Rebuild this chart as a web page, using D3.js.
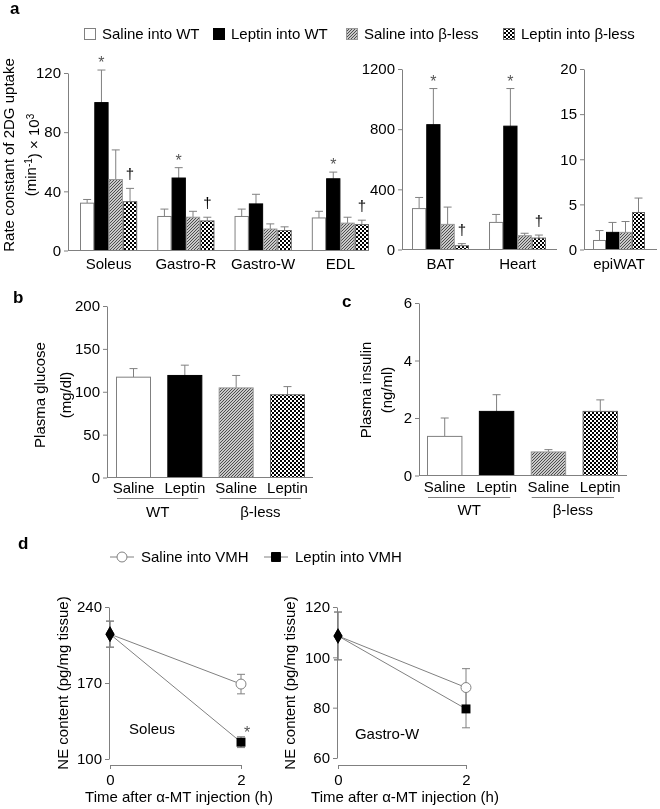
<!DOCTYPE html>
<html><head><meta charset="utf-8">
<script src="https://cdn.jsdelivr.net/npm/d3@7"></script>
<style>
body{margin:0;background:#fff}
svg{will-change:transform}
svg text{font-family:"Liberation Sans",Arial,Helvetica,sans-serif;fill:#000}
</style></head><body>
<svg id="chart" width="660" height="809"></svg>
<script>
// ---------------- DATA ----------------
const seriesLabels = ["Saline into WT", "Leptin into WT", "Saline into β-less", "Leptin into β-less"];

const muscleTissues = ["Soleus", "Gastro-R", "Gastro-W", "EDL"];
const muscleMean = [[32, 100, 48, 33], [23, 49, 22.5, 20], [23, 31.5, 14.5, 13.5], [22, 48.5, 18.5, 17.5]];
const muscleSem = [[2.5, 22, 20, 9], [5, 7, 4, 2.5], [5, 6.5, 3.5, 2.5], [4.5, 4.5, 4, 3]];
const muscleStar = [true, true, false, true];
const muscleDagger = [true, true, false, true];
const muscleTicks = [0, 40, 80, 120];

const organTissues = ["BAT", "Heart"];
const organMean = [[272, 830, 167, 25], [180, 820, 92, 76]];
const organSem = [[74, 240, 115, 14], [53, 250, 16, 20]];
const organStar = [true, true];
const organDagger = [true, true];
const organTicks = [0, 400, 800, 1200];

const watTissues = ["epiWAT"];
const watMean = [[1.0, 1.9, 1.9, 4.1]];
const watSem = [[1.1, 1.1, 1.2, 1.6]];
const watTicks = [0, 5, 10, 15, 20];

const treatLabels = ["Saline", "Leptin", "Saline", "Leptin"];
const genotypeLabels = ["WT", "β-less"];
const glucoseMean = [117, 119, 104.5, 96.5];
const glucoseSem = [10, 12, 14.5, 9.5];
const glucoseTicks = [0, 50, 100, 150, 200];
const insulinMean = [1.36, 2.23, 0.82, 2.23];
const insulinSem = [0.64, 0.58, 0.08, 0.4];
const insulinTicks = [0, 2, 4, 6];

const neLegend = ["Saline into VMH", "Leptin into VMH"];
const neTimes = [0, 2];
const soleusSaline = [215, 169];
const soleusSalineSem = [12, 9];
const soleusLeptin = [215, 115.5];
const soleusLeptinSem = [12, 5];
const soleusTicks = [100, 170, 240];
const gastroSaline = [108.5, 88];
const gastroSalineSem = [9.5, 7.5];
const gastroLeptin = [108.5, 79.5];
const gastroLeptinSem = [9.5, 7.5];
const gastroTicks = [60, 80, 100, 120];

// ---------------- DRAWING ----------------
const svg = d3.select("#chart");
const AX = "#808080";
const FS = 15;
const fills = ["#ffffff", "#000000", "url(#hatch)", "url(#checker)"];
const strokes = [AX, "#000", "#999", "#666"];

const defs = svg.append("defs");
const hp = defs.append("pattern").attr("id", "hatch").attr("patternUnits", "userSpaceOnUse")
  .attr("width", 3).attr("height", 3);
hp.append("rect").attr("width", 3).attr("height", 3).attr("fill", "#fff");
hp.append("path").attr("d", "M-1,1 l2,-2 M0,3 l3,-3 M2,4 l2,-2").attr("stroke", "#444").attr("stroke-width", 1.1);
const cp = defs.append("pattern").attr("id", "checker").attr("patternUnits", "userSpaceOnUse")
  .attr("width", 4).attr("height", 4);
cp.append("rect").attr("width", 4).attr("height", 4).attr("fill", "#fff");
cp.append("rect").attr("width", 2).attr("height", 2).attr("fill", "#000");
cp.append("rect").attr("x", 2).attr("y", 2).attr("width", 2).attr("height", 2).attr("fill", "#000");

function panelLabel(t, x, y) {
  svg.append("text").attr("x", x).attr("y", y).attr("font-size", 17).attr("font-weight", "bold").text(t);
}

function yAxis(y, x, ticks) {
  const g = svg.append("g").attr("transform", `translate(${x},0)`)
    .call(d3.axisLeft(y).tickValues(ticks).tickSize(4).tickSizeOuter(0).tickPadding(3).tickFormat(d3.format("d")));
  g.attr("color", AX);
  g.selectAll("text").attr("font-size", FS).style("fill", "#000");
  g.select(".domain").attr("stroke-width", 1);
  return g;
}

function rotTitle(lines, cy) {
  lines.forEach(l => {
    const t = svg.append("text").attr("transform", `translate(${l.x},${cy}) rotate(-90)`)
      .attr("text-anchor", "middle").attr("dy", "0.35em").attr("font-size", FS);
    l.parts.forEach(p => {
      const ts = t.append("tspan").text(p.t);
      if (p.sup) ts.attr("dy", "-0.45em").attr("font-size", 10);
      if (p.back) ts.attr("dy", "0.45em");
    });
  });
}

function barPanel(o) {
  const x = d3.scaleBand().domain(o.cats).range(o.range).paddingInner(o.pad).paddingOuter(0);
  const xi = d3.scaleBand().domain(d3.range(4)).range([0, x.bandwidth()]);
  const y = d3.scaleLinear().domain([0, o.ticks[o.ticks.length - 1]]).range(o.yRange);
  yAxis(y, o.axisX, o.ticks);
  const g = svg.append("g");
  o.cats.forEach((c, ci) => {
    const gx = x(c);
    o.mean[ci].forEach((v, si) => {
      const bx = gx + xi(si), bw = xi.bandwidth();
      const cx = bx + bw / 2;
      const eTop = y(v + o.sem[ci][si]);
      g.append("line").attr("x1", cx).attr("x2", cx).attr("y1", y(v)).attr("y2", eTop)
        .attr("stroke", AX).attr("stroke-width", 1);
      g.append("line").attr("x1", cx - 4).attr("x2", cx + 4).attr("y1", eTop).attr("y2", eTop)
        .attr("stroke", AX).attr("stroke-width", 1);
      g.append("rect").attr("x", bx + 0.5).attr("y", y(v)).attr("width", bw - 1).attr("height", y(0) - y(v))
        .attr("fill", fills[si]).attr("stroke", strokes[si]).attr("stroke-width", 1);
      if (o.star && o.star[ci] && si === 1)
        g.append("text").attr("x", cx).attr("y", eTop - 2).attr("text-anchor", "middle")
          .attr("font-size", 16).style("fill", "#555").text("*");
      if (o.dagger && o.dagger[ci] && si === 3)
        g.append("text").attr("x", cx).attr("y", eTop - 9).attr("text-anchor", "middle")
          .attr("font-size", FS).style("fill", "#000").text("†");
    });
    if (o.catY) g.append("text").attr("x", gx + x.bandwidth() / 2).attr("y", o.catY)
      .attr("text-anchor", "middle").attr("font-size", FS).text(c);
  });
  g.append("line").attr("x1", o.axisX).attr("x2", o.baseEnd).attr("y1", y(0)).attr("y2", y(0))
    .attr("stroke", AX).attr("stroke-width", 1);
  return {x, y};
}

// ---- Panel a ----
panelLabel("a", 10, 14);
const legX = [84, 213, 346, 503];
seriesLabels.forEach((s, i) => {
  svg.append("rect").attr("x", legX[i] + 0.5).attr("y", 28.5).attr("width", 11).attr("height", 11)
    .attr("fill", fills[i]).attr("stroke", strokes[i]);
  svg.append("text").attr("x", legX[i] + 18).attr("y", 39).attr("font-size", FS).text(s);
});
barPanel({cats: muscleTissues, mean: muscleMean, sem: muscleSem, star: muscleStar, dagger: muscleDagger,
  ticks: muscleTicks, range: [80, 369], pad: 0.26, yRange: [250.5, 73], axisX: 68, baseEnd: 369, catY: 269});
barPanel({cats: organTissues, mean: organMean, sem: organSem, star: organStar, dagger: organDagger,
  ticks: organTicks, range: [412, 546], pad: 0.26, yRange: [249.5, 69], axisX: 402, baseEnd: 557, catY: 269});
barPanel({cats: watTissues, mean: watMean, sem: watSem,
  ticks: watTicks, range: [593, 645], pad: 0, yRange: [249.5, 69], axisX: 584, baseEnd: 657, catY: 269});
rotTitle([
  {x: 9, parts: [{t: "Rate constant of 2DG uptake"}]},
  {x: 31, parts: [{t: "(min"}, {t: "-1", sup: true}, {t: ") × 10", back: true}, {t: "3", sup: true}]}
], 155);

// ---- Panels b & c ----
function simplePanel(o) {
  const x = d3.scaleBand().domain(d3.range(4)).range(o.range).paddingInner(o.pad).paddingOuter(0);
  const y = d3.scaleLinear().domain([0, o.ticks[o.ticks.length - 1]]).range(o.yRange);
  yAxis(y, o.axisX, o.ticks);
  const g = svg.append("g");
  o.mean.forEach((v, i) => {
    const bx = x(i), bw = x.bandwidth(), cx = bx + bw / 2, eTop = y(v + o.sem[i]);
    g.append("line").attr("x1", cx).attr("x2", cx).attr("y1", y(v)).attr("y2", eTop).attr("stroke", AX);
    g.append("line").attr("x1", cx - 4).attr("x2", cx + 4).attr("y1", eTop).attr("y2", eTop).attr("stroke", AX);
    g.append("rect").attr("x", bx + 0.5).attr("y", y(v)).attr("width", bw - 1).attr("height", y(0) - y(v))
      .attr("fill", fills[i]).attr("stroke", strokes[i]);
    g.append("text").attr("x", cx).attr("y", o.labY).attr("text-anchor", "middle").attr("font-size", FS).text(treatLabels[i]);
  });
  g.append("line").attr("x1", o.axisX).attr("x2", o.baseEnd).attr("y1", y(0)).attr("y2", y(0)).attr("stroke", AX);
  genotypeLabels.forEach((gl, k) => {
    const x1 = x(2 * k) + 1, x2 = x(2 * k + 1) + x.bandwidth() - 4;
    g.append("line").attr("x1", x1).attr("x2", x2).attr("y1", o.lineY).attr("y2", o.lineY).attr("stroke", AX);
    g.append("text").attr("x", (x1 + x2) / 2).attr("y", o.grpY).attr("text-anchor", "middle").attr("font-size", FS).text(gl);
  });
}
panelLabel("b", 13, 303);
simplePanel({mean: glucoseMean, sem: glucoseSem, ticks: glucoseTicks, range: [116, 305], pad: 0.318,
  yRange: [477.5, 306], axisX: 107, baseEnd: 313, labY: 493, lineY: 498.5, grpY: 517});
rotTitle([{x: 40, parts: [{t: "Plasma glucose"}]}, {x: 66, parts: [{t: "(mg/dl)"}]}], 395);

panelLabel("c", 342, 307);
simplePanel({mean: insulinMean, sem: insulinSem, ticks: insulinTicks, range: [427, 618], pad: 0.317,
  yRange: [475.5, 303], axisX: 419, baseEnd: 627, labY: 492, lineY: 497.5, grpY: 515});
rotTitle([{x: 366, parts: [{t: "Plasma insulin"}]}, {x: 387, parts: [{t: "(ng/ml)"}]}], 390);

// ---- Panel d ----
panelLabel("d", 18, 549);
const circleSym = d3.symbol().type(d3.symbolCircle).size(78);
const squareSym = d3.symbol().type(d3.symbolSquare).size(80);
const diamondSym = d3.symbol().type(d3.symbolDiamond).size(70);
function legendMark(x, y, isLep, label) {
  svg.append("line").attr("x1", x).attr("x2", x + 24).attr("y1", y).attr("y2", y).attr("stroke", AX);
  svg.append("path").attr("transform", `translate(${x + 12},${y})`)
    .attr("d", isLep ? squareSym() : circleSym())
    .attr("fill", isLep ? "#000" : "#fff").attr("stroke", isLep ? "#000" : AX);
  svg.append("text").attr("x", x + 31).attr("y", y + 5).attr("font-size", FS).text(label);
}
legendMark(110, 557, false, neLegend[0]);
legendMark(264, 557, true, neLegend[1]);

function linePanel(o) {
  const x = d3.scaleLinear().domain([0, 2]).range(o.xRange);
  const y = d3.scaleLinear().domain([o.ticks[0], o.ticks[o.ticks.length - 1]]).range(o.yRange);
  yAxis(y, o.xRange[0] - 1, o.ticks);
  const xa = svg.append("g").attr("transform", `translate(0,${o.xAxisY})`)
    .call(d3.axisBottom(x).tickValues(neTimes).tickSize(4).tickSizeOuter(0).tickPadding(5).tickFormat(d3.format("d")));
  xa.attr("color", AX);
  xa.selectAll("text").attr("font-size", FS).style("fill", "#000");
  const g = svg.append("g");
  const series = [{v: o.saline, s: o.salineSem, lep: false}, {v: o.leptin, s: o.leptinSem, lep: true}];
  const line = d3.line().x((d, i) => x(neTimes[i])).y(d => y(d));
  series.forEach(se => {
    g.append("path").attr("d", line(se.v)).attr("fill", "none").attr("stroke", AX).attr("stroke-width", 1);
  });
  series.forEach(se => {
    se.v.forEach((v, i) => {
      const cx = x(neTimes[i]), y1 = y(v + se.s[i]), y2 = y(v - se.s[i]);
      g.append("line").attr("x1", cx).attr("x2", cx).attr("y1", y1).attr("y2", y2).attr("stroke", AX);
      [y1, y2].forEach(yy => g.append("line").attr("x1", cx - 4).attr("x2", cx + 4).attr("y1", yy).attr("y2", yy).attr("stroke", AX));
    });
  });
  series.forEach(se => {
    se.v.forEach((v, i) => {
      const p = g.append("path").attr("transform", `translate(${x(neTimes[i])},${y(v)})`);
      if (i === 0) p.attr("d", diamondSym()).attr("fill", "#000");
      else if (se.lep) p.attr("d", squareSym()).attr("fill", "#000");
      else p.attr("d", circleSym()).attr("fill", "#fff").attr("stroke", AX);
    });
  });
  if (o.starAt) g.append("text").attr("x", x(2) + 6).attr("y", y(o.leptin[1]) - 4).attr("text-anchor", "middle")
    .attr("font-size", 16).style("fill", "#555").text("*");
  g.append("text").attr("x", o.tissueX).attr("y", o.tissueY).attr("text-anchor", "middle").attr("font-size", FS).text(o.tissue);
  svg.append("text").attr("x", o.titleX).attr("y", 802).attr("text-anchor", "middle").attr("font-size", FS)
    .text("Time after α-MT injection (h)");
  rotTitle([{x: o.yTitleX, parts: [{t: "NE content (pg/mg tissue)"}]}], 683);
}
linePanel({xRange: [110, 241], yRange: [759, 607], ticks: soleusTicks, xAxisY: 765,
  saline: soleusSaline, salineSem: soleusSalineSem, leptin: soleusLeptin, leptinSem: soleusLeptinSem,
  starAt: true, tissue: "Soleus", tissueX: 152, tissueY: 734, titleX: 179, yTitleX: 63});
linePanel({xRange: [338, 466], yRange: [758, 607], ticks: gastroTicks, xAxisY: 765,
  saline: gastroSaline, salineSem: gastroSalineSem, leptin: gastroLeptin, leptinSem: gastroLeptinSem,
  starAt: false, tissue: "Gastro-W", tissueX: 387, tissueY: 739, titleX: 405, yTitleX: 290});
</script>
</body></html>
